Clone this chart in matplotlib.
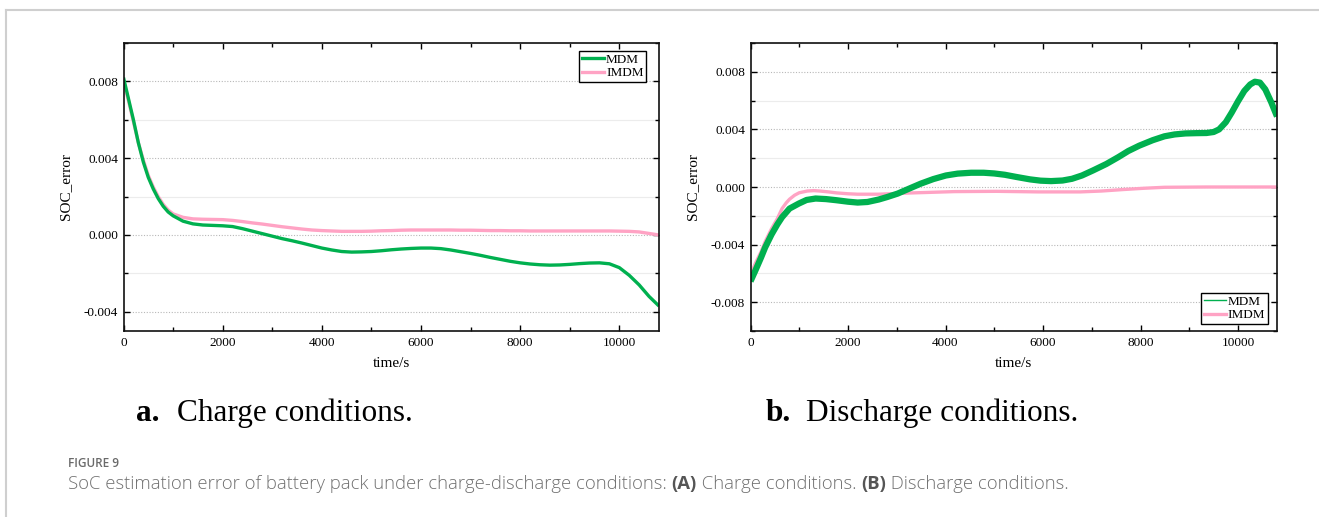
import matplotlib
matplotlib.use("Agg")
import matplotlib.pyplot as plt
from matplotlib.ticker import MultipleLocator, FuncFormatter
from matplotlib.lines import Line2D

plt.rcParams['axes.unicode_minus'] = False
SERIF = ['Liberation Serif', 'DejaVu Serif']

# ---------------- data ----------------
charge_t = [0, 100, 200, 300, 400, 500, 600, 700, 800, 900, 1000, 1200, 1400, 1600, 1800,
            2000, 2200, 2400, 2600, 2800, 3000, 3200, 3400, 3600, 3800, 4000, 4200, 4400,
            4600, 4800, 5000, 5200, 5400, 5600, 5800, 6000, 6200, 6400, 6600, 6800, 7000,
            7200, 7400, 7600, 7800, 8000, 8200, 8400, 8600, 8800, 9000, 9200, 9400, 9600,
            9800, 10000, 10200, 10400, 10600, 10800]
charge_mdm = [0.0082, 0.0071, 0.0060, 0.0048, 0.0038, 0.0030, 0.0024, 0.0019, 0.0015, 0.0012,
              0.0010, 0.00072, 0.00058, 0.00052, 0.00050, 0.00048, 0.00044, 0.00033, 0.00020,
              0.00007, -0.00006, -0.00019, -0.00030, -0.00042, -0.00055, -0.00068, -0.00078,
              -0.00086, -0.00089, -0.00088, -0.00086, -0.00082, -0.00077, -0.00073, -0.00070,
              -0.00068, -0.00068, -0.00071, -0.00078, -0.00087, -0.00096, -0.00106, -0.00117,
              -0.00127, -0.00137, -0.00145, -0.00151, -0.00155, -0.00157, -0.00156, -0.00153,
              -0.00149, -0.00146, -0.00145, -0.00150, -0.00170, -0.00210, -0.00260, -0.00320,
              -0.00370]
charge_imdm = [0.0080, 0.0070, 0.0059, 0.0048, 0.0039, 0.0031, 0.0025, 0.0020, 0.0016, 0.0013,
               0.0011, 0.00092, 0.00084, 0.00082, 0.00081, 0.00080, 0.00076, 0.00070, 0.00063,
               0.00057, 0.00050, 0.00043, 0.00037, 0.00031, 0.00026, 0.00023, 0.00021, 0.00019,
               0.00019, 0.00019, 0.00020, 0.00022, 0.00023, 0.00025, 0.00026, 0.00026, 0.00026,
               0.00026, 0.00026, 0.00025, 0.00025, 0.00024, 0.00023, 0.00023, 0.00022, 0.00022,
               0.00021, 0.00021, 0.00021, 0.00021, 0.00021, 0.00021, 0.00021, 0.00021, 0.00021,
               0.00020, 0.00019, 0.00016, 0.00008, 0.0]

dis_t_mdm = [0, 100, 216, 300, 431, 550, 647, 800, 991, 1150, 1336, 1550, 1767, 2000, 2198,
             2400, 2629, 2800, 3017, 3250, 3491, 3750, 4009, 4250, 4526, 4784, 5000, 5216,
             5450, 5733, 5950, 6164, 6400, 6595, 6800, 7026, 7300, 7543, 7750, 7974, 8250,
             8491, 8700, 8922, 9150, 9353, 9500, 9612, 9750, 9871, 10000, 10129, 10250, 10345,
             10450, 10560, 10680, 10800]
dis_mdm = [-0.00655, -0.0058, -0.0049, -0.0042, -0.0033, -0.0026, -0.0021, -0.0015, -0.00115,
           -0.00090, -0.00080, -0.00084, -0.00092, -0.00102, -0.00108, -0.00104, -0.00087,
           -0.00070, -0.00046, -0.00012, 0.00023, 0.00055, 0.00080, 0.00093, 0.00099, 0.00099,
           0.00094, 0.00085, 0.00070, 0.00053, 0.00044, 0.00041, 0.00045, 0.00057, 0.00080,
           0.00115, 0.00160, 0.00207, 0.00250, 0.00287, 0.00325, 0.00352, 0.00365, 0.00372,
           0.00374, 0.00375, 0.00382, 0.00400, 0.00450, 0.00517, 0.00595, 0.00667, 0.00712,
           0.00731, 0.00725, 0.00678, 0.00590, 0.00490]

dis_t_imdm = [0, 100, 216, 300, 431, 550, 647, 733, 800, 905, 1000, 1164, 1300, 1422, 1600,
              1767, 2000, 2198, 2629, 3319, 4181, 5043, 5905, 6767, 7198, 7629, 8060, 8491,
              9353, 10800]
dis_imdm = [-0.0061, -0.0053, -0.0045, -0.0038, -0.0029, -0.0022, -0.0015, -0.0011, -0.00085,
            -0.00057, -0.00040, -0.00028, -0.00025, -0.00028, -0.00034, -0.00041, -0.00047,
            -0.00050, -0.00050, -0.00041, -0.00032, -0.00030, -0.00034, -0.00034, -0.00028,
            -0.00018, -0.00009, -0.00002, 0.0, 0.0]

series_names = ['MDM', 'IMDM']
sub_labels = ['a.', 'b.']
sub_titles = ['Charge conditions.', 'Discharge conditions.']
x_label = 'time/s'
y_label = 'SOC_error'
fig_label = 'FIGURE 9'
caption_parts = ['SoC estimation error of battery pack under charge-discharge conditions: ',
                 '(A)', ' Charge conditions. ', '(B)', ' Discharge conditions.']

GREEN = '#00B04F'
PINK = '#FFA3C4'

W, H = 1319, 517
fig = plt.figure(figsize=(W / 100, H / 100), dpi=100)
fig.patch.set_facecolor('white')


def fx(px):
    return px / W


def fy(py):
    return 1 - py / H


def make_axes(left, right, top, bottom):
    return fig.add_axes([fx(left), fy(bottom), fx(right - left), (bottom - top) / H])


def style(ax, ylim, ymaj, ymin):
    ax.set_xlim(0, 10800)
    ax.set_ylim(*ylim)
    ax.xaxis.set_major_locator(MultipleLocator(2000))
    ax.xaxis.set_minor_locator(MultipleLocator(1000))
    ax.yaxis.set_major_locator(MultipleLocator(ymaj))
    ax.yaxis.set_minor_locator(MultipleLocator(ymin))
    ax.yaxis.set_major_formatter(FuncFormatter(lambda v, p: f"{v:.3f}" if abs(v) > 1e-9 else "0.000"))
    ax.xaxis.set_major_formatter(FuncFormatter(lambda v, p: f"{int(round(v))}"))
    ax.tick_params(which='both', direction='in', top=True, right=True, width=1.0, colors='black')
    ax.tick_params(which='major', length=4.5, labelsize=9.5, pad=4)
    ax.tick_params(which='minor', length=3)
    for lab in ax.get_xticklabels() + ax.get_yticklabels():
        lab.set_family(SERIF)
    for s in ax.spines.values():
        s.set_linewidth(1.2)
        s.set_color('#111111')
    ax.grid(True, which='major', axis='y', linestyle=(0, (1, 1.5)), color='#b8b8b8', linewidth=0.8)
    ax.grid(True, which='minor', axis='y', linestyle='-', color='#ececec', linewidth=0.8)
    ax.set_axisbelow(True)
    ax.set_xlabel(x_label, family=SERIF, fontsize=11, labelpad=6)
    ax.set_ylabel(y_label, family=SERIF, fontsize=11, labelpad=8)


# left panel
ax1 = make_axes(123.5, 659, 43, 331)
style(ax1, (-0.005, 0.010), 0.004, 0.002)
ax1.plot(charge_t, charge_imdm, color=PINK, lw=2.4, solid_capstyle='butt')
ax1.plot(charge_t, charge_mdm, color=GREEN, lw=2.4, solid_capstyle='butt')
h1 = [Line2D([], [], color=GREEN, lw=2.4), Line2D([], [], color=PINK, lw=2.4)]
leg1 = ax1.legend(h1, series_names, loc='upper right', bbox_to_anchor=(0.976, 0.972),
                  borderaxespad=0, fancybox=False, edgecolor='black', framealpha=1,
                  prop={'family': SERIF, 'size': 9.5}, handlelength=1.7, handletextpad=0.15,
                  labelspacing=0.1, borderpad=0.2)
leg1.get_frame().set_linewidth(1.0)

# right panel
ax2 = make_axes(750.5, 1277, 43, 331)
style(ax2, (-0.010, 0.010), 0.004, 0.002)
ax2.plot(dis_t_imdm, dis_imdm, color=PINK, lw=2.4, solid_capstyle='butt')
ax2.plot(dis_t_mdm, dis_mdm, color=GREEN, lw=4.5, solid_capstyle='butt')
h2 = [Line2D([], [], color=GREEN, lw=1.0), Line2D([], [], color=PINK, lw=2.4)]
leg2 = ax2.legend(h2, series_names, loc='lower right', bbox_to_anchor=(0.983, 0.024),
                  borderaxespad=0, fancybox=False, edgecolor='black', framealpha=1,
                  prop={'family': SERIF, 'size': 9.5}, handlelength=1.7, handletextpad=0.15,
                  labelspacing=0.1, borderpad=0.2)
leg2.get_frame().set_linewidth(1.0)

# sub captions
fig.text(fx(136), fy(421), sub_labels[0], family=SERIF, fontsize=22.5, weight='bold', va='baseline')
fig.text(fx(177), fy(421), sub_titles[0], family=SERIF, fontsize=22.5, va='baseline')
fig.text(fx(766), fy(421), sub_labels[1], family=SERIF, fontsize=22.5, weight='bold', va='baseline')
fig.text(fx(806), fy(421), sub_titles[1], family=SERIF, fontsize=22.5, va='baseline')

# figure caption
CAP = ['Open Sans', 'DejaVu Sans']
fig.text(fx(68), fy(467), fig_label, family=CAP, fontsize=8.5, weight='semibold', color='#6a6a6a',
         va='baseline')

fig.canvas.draw()
r = fig.canvas.get_renderer()
x = 68
for i, part in enumerate(caption_parts):
    bold = part.startswith('(')
    t = fig.text(fx(x), fy(489), part, family=CAP, fontsize=13.3, weight='bold' if bold else 'light',
                 color='#707070' if not bold else '#555555', va='baseline')
    bb = t.get_window_extent(renderer=r)
    x += bb.width

# page border lines
fig.add_artist(Line2D([fx(6), 1], [fy(10), fy(10)], color='#cfcfcf', lw=1.5))
fig.add_artist(Line2D([fx(6), fx(6)], [fy(10), 0], color='#cfcfcf', lw=1.5))

fig.savefig('out.png', dpi=100, facecolor='white')
